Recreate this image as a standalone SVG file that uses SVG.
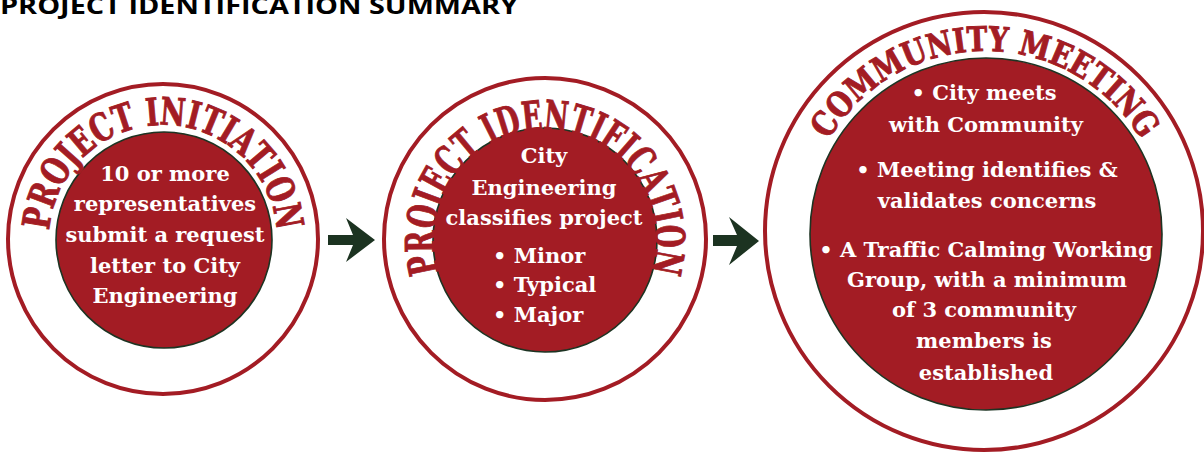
<svg xmlns="http://www.w3.org/2000/svg" width="1204" height="453" viewBox="0 0 1204 453">
<style>
.ring{fill:none;stroke:#a31c24;stroke-width:4}
.core{fill:#a31c24;stroke:#1d3322;stroke-width:1.6}
.arc{font-family:"DejaVu Serif","Liberation Serif",serif;font-stretch:condensed;font-weight:700;fill:#a31c24;stroke:#a31c24;stroke-width:0.9}
.body{font-family:"DejaVu Serif","Liberation Serif",serif;font-weight:700;font-size:21px;fill:#ffffff}
.mid{text-anchor:middle}
.arrow{fill:#1c3321}
.title{font-family:"Open Sans","Liberation Sans",sans-serif;font-weight:700;font-size:24px;fill:#000}
</style>
<defs>
<path id="p1" d="M163,353 A114,114 0 1 1 163,125 A114,114 0 1 1 163,353"/>
<path id="p2" d="M545,350 A110,110 0 1 1 545,130 A110,110 0 1 1 545,350"/>
<path id="p3" d="M985,415 A182,182 0 1 1 985,51 A182,182 0 1 1 985,415"/>
</defs>
<text class="title" x="0" y="14" textLength="518" lengthAdjust="spacingAndGlyphs">PROJECT IDENTIFICATION SUMMARY</text>

<g id="connectors">
<polygon class="arrow" points="328,235 353,235 346,218 375,240 346,262 353,245 328,245"/>
<polygon class="arrow" points="713,235 737,235 729,217 759,241 729,265 737,246 713,246"/>
</g>

<g id="project-initiation">
<circle class="ring" cx="163" cy="239" r="155"/>
<circle class="core" cx="164" cy="240" r="108"/>
<text class="arc" font-size="38"><textPath href="#p1" startOffset="50%" text-anchor="middle" textLength="341" lengthAdjust="spacingAndGlyphs">PROJECT INITIATION</textPath></text>
<text class="body mid" x="165" y="181">10 or more</text>
<text class="body mid" x="165" y="211">representatives</text>
<text class="body mid" x="165" y="242">submit a request</text>
<text class="body mid" x="165" y="273">letter to City</text>
<text class="body mid" x="165" y="303">Engineering</text>
</g>

<g id="project-identification">
<circle class="ring" cx="545" cy="239" r="161"/>
<circle class="core" cx="545" cy="240" r="112"/>
<text class="arc" font-size="41"><textPath href="#p2" startOffset="50%" text-anchor="middle" textLength="410" lengthAdjust="spacingAndGlyphs">PROJECT IDENTIFICATION</textPath></text>
<text class="body mid" x="544" y="163">City</text>
<text class="body mid" x="544" y="195">Engineering</text>
<text class="body mid" x="544" y="225">classifies project</text>
<text class="body" x="493" y="263">• Minor</text>
<text class="body" x="493" y="292">• Typical</text>
<text class="body" x="493" y="322">• Major</text>
</g>

<g id="community-meeting">
<circle class="ring" cx="984" cy="231" r="219"/>
<circle class="core" cx="986" cy="234" r="176"/>
<text class="arc" font-size="34"><textPath href="#p3" startOffset="50%" text-anchor="middle" textLength="376" lengthAdjust="spacingAndGlyphs">COMMUNITY MEETING</textPath></text>
<text class="body mid" x="984" y="100">• City meets</text>
<text class="body mid" x="986" y="132">with Community</text>
<text class="body mid" x="987" y="177">• Meeting identifies &amp;</text>
<text class="body mid" x="987" y="208">validates concerns</text>
<text class="body mid" x="986" y="257">• A Traffic Calming Working</text>
<text class="body mid" x="987" y="287">Group, with a minimum</text>
<text class="body mid" x="984" y="317">of 3 community</text>
<text class="body mid" x="984" y="348">members is</text>
<text class="body mid" x="986" y="380">established</text>
</g>
</svg>
